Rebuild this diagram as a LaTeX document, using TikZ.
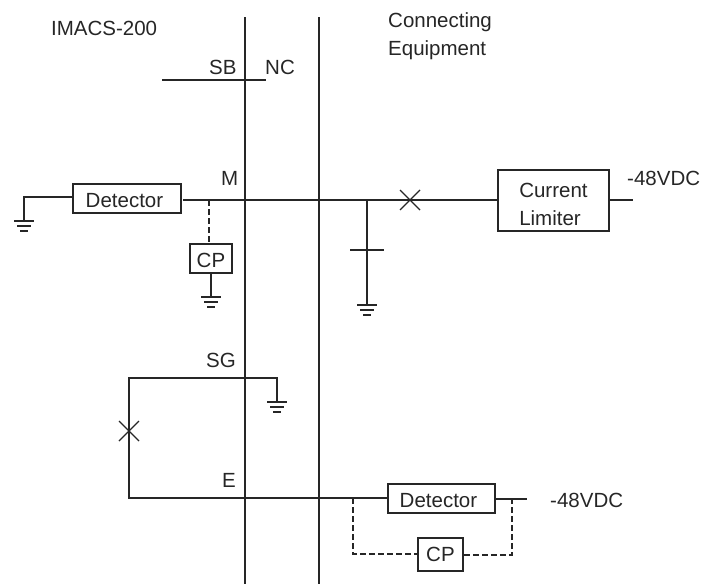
\documentclass[tikz,border=0pt]{standalone}
\usepackage{fontspec}
\setmainfont{Liberation Sans}
\newcommand\boxstrut[1]{\rule{0pt}{#1pt}}
\tikzset{
  wire/.style={line width=1.9pt,color=black!85},
  dwire/.style={wire,dash pattern=on 6pt off 3pt},
  boxnode/.style={draw=black!85,line width=1.9pt,inner sep=0pt,anchor=north west,align=left,fill=white,text=black!85,font=\fontsize{20.5}{28}\selectfont},
  lbl/.style={inner sep=0pt,anchor=base west,font=\fontsize{20.5}{24}\selectfont,text=black!85},
  groundmark/.pic={
    \draw[wire] (-10,0) -- (10,0);
    \draw[wire] (-7,5) -- (7,5);
    \draw[wire] (-4,10) -- (4,10);
  },
  crossmark/.pic={
    \draw[line width=1.2pt,color=black!85] (-10,-10) -- (10,10) (-10,10) -- (10,-10);
  }
}
\begin{document}
\begin{tikzpicture}[x=1pt,y=-1pt]
\useasboundingbox (0,0) rectangle (704,584);
% buses
\coordinate (busAt) at (245,17); \coordinate (busAb) at (245,584);
\coordinate (busBt) at (319,17); \coordinate (busBb) at (319,584);
\draw[wire] (busAt) -- (busAb);
\draw[wire] (busBt) -- (busBb);
% labels
\node[lbl] (imacs) at (51,35) {IMACS-200};
\node[lbl] (conn) at (388,27) {Connecting};
\node[lbl] (equip) at (388,55) {Equipment};
\node[lbl] (sb) at (209,74) {SB};
\node[lbl] (nc) at (265,74) {NC};
\node[lbl] (m) at (221,185) {M};
\node[lbl] (sg) at (206,367) {SG};
\node[lbl] (e) at (222,487) {E};
\node[lbl] (v1) at (627,185) {-48VDC};
\node[lbl] (v2) at (550,507) {-48VDC};
% SB line
\coordinate (sbL) at (162,80); \coordinate (sbR) at (266,80);
\draw[wire] (sbL) -- (sbR);
% boxes
\node[boxnode,minimum width=108pt,minimum height=29pt] (det1) at (72,183) {\boxstrut{19}Detector\hspace*{5pt}};
\node[boxnode,minimum width=42pt,minimum height=29pt] (cp1) at (189,243) {\boxstrut{19}CP};
\node[boxnode,minimum width=111pt,minimum height=61pt] (lim) at (497,169) {\boxstrut{23}Current\\Limiter};
\node[boxnode,minimum width=107pt,minimum height=29pt] (det2) at (387,483) {\boxstrut{19}Detector\hspace*{6pt}};
\node[boxnode,minimum width=45pt,minimum height=33pt] (cp2) at (417,537) {CP};
% M circuit
\coordinate (g1t) at (24,221);
\coordinate (det1out) at (183,200);
\coordinate (tap1) at (209,200);
\coordinate (xm) at (410,200);
\coordinate (tap2) at (367,200);
\coordinate (capl) at (350,250); \coordinate (capr) at (384,250);
\coordinate (g3t) at (367,305);
\coordinate (g2t) at (211,297);
\draw[wire] (det1.west |- 0,197) -| (g1t);
\draw[wire] (det1out) -- (lim.west |- det1out);
\draw[dwire] (tap1) -- (tap1 |- cp1.north);
\draw[wire] (cp1.south -| g2t) -- (g2t);
\draw[wire] (tap2) -- (g3t);
\draw[wire] (capl) -- (capr);
\coordinate (limout) at (633,200);
\draw[wire] (lim.east |- limout) -- (limout);
\pic at (g1t) {groundmark};
\pic at (g2t) {groundmark};
\pic at (g3t) {groundmark};
\pic at (xm) {crossmark};
% SG / E loop
\coordinate (lt) at (129,378);
\coordinate (lb) at (129,498);
\coordinate (sgr) at (277,378);
\coordinate (g4t) at (277,402);
\coordinate (xl) at (129,431);
\draw[wire] (g4t) -- (sgr) -- (lt) -- (lb) -- (det2.west |- lb);
\pic at (g4t) {groundmark};
\pic at (xl) {crossmark};
% lower right
\coordinate (det2r) at (527,499);
\coordinate (dl) at (353,498);
\coordinate (dlb) at (353,554);
\coordinate (dr) at (512,499);
\coordinate (drb) at (512,555);
\draw[wire] (det2.east |- det2r) -- (det2r);
\draw[dwire] (dl) -- (dlb) -- (cp2.west |- dlb);
\draw[dwire] (cp2.east |- drb) -- (drb) -- (dr);
\end{tikzpicture}
\end{document}
